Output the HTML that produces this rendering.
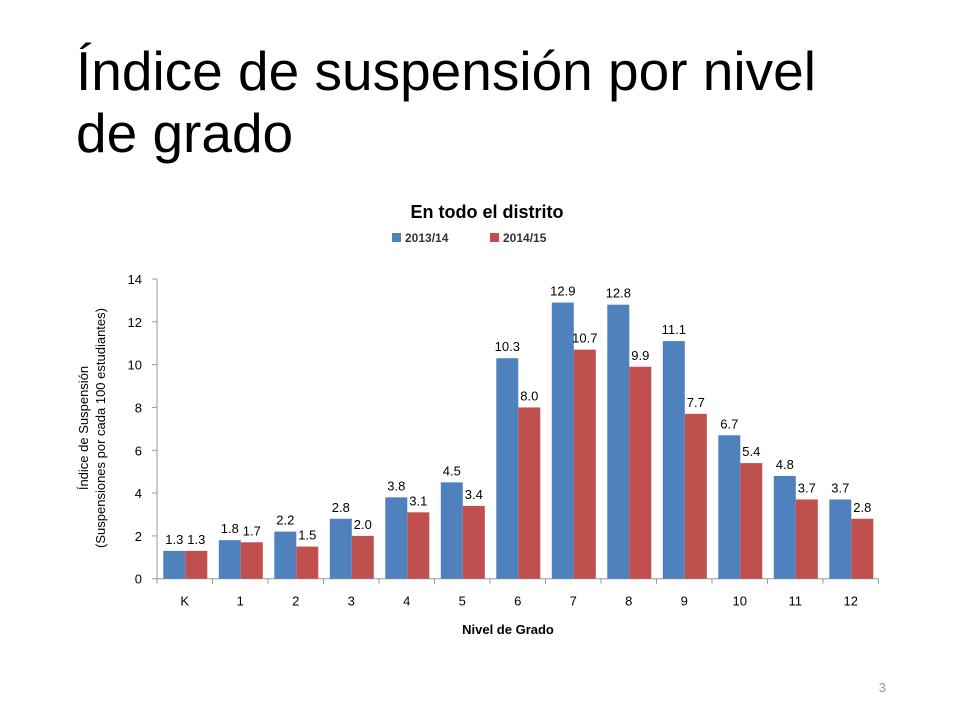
<!DOCTYPE html>
<html><head><meta charset="utf-8"><style>
body{margin:0;background:#fff;font-family:"Liberation Sans",sans-serif;}
#wrap{position:relative;width:960px;height:720px;overflow:hidden;}
h1{position:absolute;left:76px;top:40px;margin:0;font-weight:normal;font-size:55px;line-height:62px;color:#000;}
</style></head><body><div id="wrap">
<h1>Índice de suspensión por nivel<br>de grado</h1>
<svg id="chart" width="960" height="720" style="position:absolute;left:0;top:0"></svg>
</div>
<script>
const categories=["K","1","2","3","4","5","6","7","8","9","10","11","12"];
const series2013=[1.3,1.8,2.2,2.8,3.8,4.5,10.3,12.9,12.8,11.1,6.7,4.8,3.7];
const series2014=[1.3,1.7,1.5,2.0,3.1,3.4,8.0,10.7,9.9,7.7,5.4,3.7,2.8];
const yTicks=[0,2,4,6,8,10,12,14];
const seriesNames=["2013/14","2014/15"];
const svg=document.getElementById('chart');const NS='http://www.w3.org/2000/svg';
const x0=157,x1=878.5,yb=578.7,yt=279,ymax=14;
const cw=(x1-x0)/categories.length;
const y=v=>yb-(v/ymax)*(yb-yt);
const xc=i=>x0+i*cw;
function mk(t,a,txt){const e=document.createElementNS(NS,t);for(const k in a)e.setAttribute(k,a[k]);if(txt!=null)e.textContent=txt;svg.appendChild(e);return e;}
const F='"Liberation Sans",sans-serif';
let e=mk('text',{x:487,y:218,'text-anchor':'middle','font-size':18,'font-weight':'bold','font-family':F},'En todo el distrito');

const cols=['#4f81bd','#c0504d'];
[[392,0],[490,1]].forEach(([lx,s])=>{
 let r=mk('rect',{x:lx,y:233,width:9,height:9,fill:cols[s]});
 
 let t=mk('text',{x:lx+13,y:242,'font-size':12,'font-weight':'bold','font-family':F,fill:'#333'},seriesNames[s]);
 
});
let ax=mk('line',{x1:x0,y1:yt,x2:x0,y2:yb,stroke:'#999'});

let bx=mk('line',{x1:x0,y1:yb,x2:x1,y2:yb,stroke:'#999'});

yTicks.forEach(v=>{
 mk('line',{x1:x0-5,y1:y(v),x2:x0,y2:y(v),stroke:'#999'});
 let t=mk('text',{x:x0-15,y:y(v)+5,'text-anchor':'end','font-size':13,'font-family':F},String(v));
 
});
for(let i=0;i<=categories.length;i++)mk('line',{x1:xc(i),y1:yb,x2:xc(i),y2:yb+5,stroke:'#999'});
categories.forEach((c,i)=>{
 let t=mk('text',{x:xc(i)+cw/2,y:yb+27,'text-anchor':'middle','font-size':13,'font-family':F},c);
 
 [series2013,series2014].forEach((arr,s)=>{
  const bxp=xc(i)+6.3+s*22,v=arr[i];
  let r=mk('rect',{x:bxp,y:y(v),width:22,height:yb-y(v),fill:cols[s]});
  
  let l=mk('text',{x:bxp+11,y:y(v)-7,'text-anchor':'middle','font-size':13,'font-family':F},v.toFixed(1));
  
 });
});
let xt=mk('text',{x:508,y:634,'text-anchor':'middle','font-size':13,'font-weight':'bold','font-family':F},'Nivel de Grado');

let yt1=mk('text',{x:0,y:0,'text-anchor':'middle','font-size':13,'font-family':F,transform:'translate(88,428) rotate(-90)'},'Índice de Suspensión');

let yt2=mk('text',{x:0,y:0,'text-anchor':'middle','font-size':13,'font-family':F,transform:'translate(105,428) rotate(-90)'},'(Suspensiones por cada 100 estudiantes)');

let pn=mk('text',{x:886,y:692,'text-anchor':'end','font-size':13,fill:'#999','font-family':F},'3');

</script></body></html>
